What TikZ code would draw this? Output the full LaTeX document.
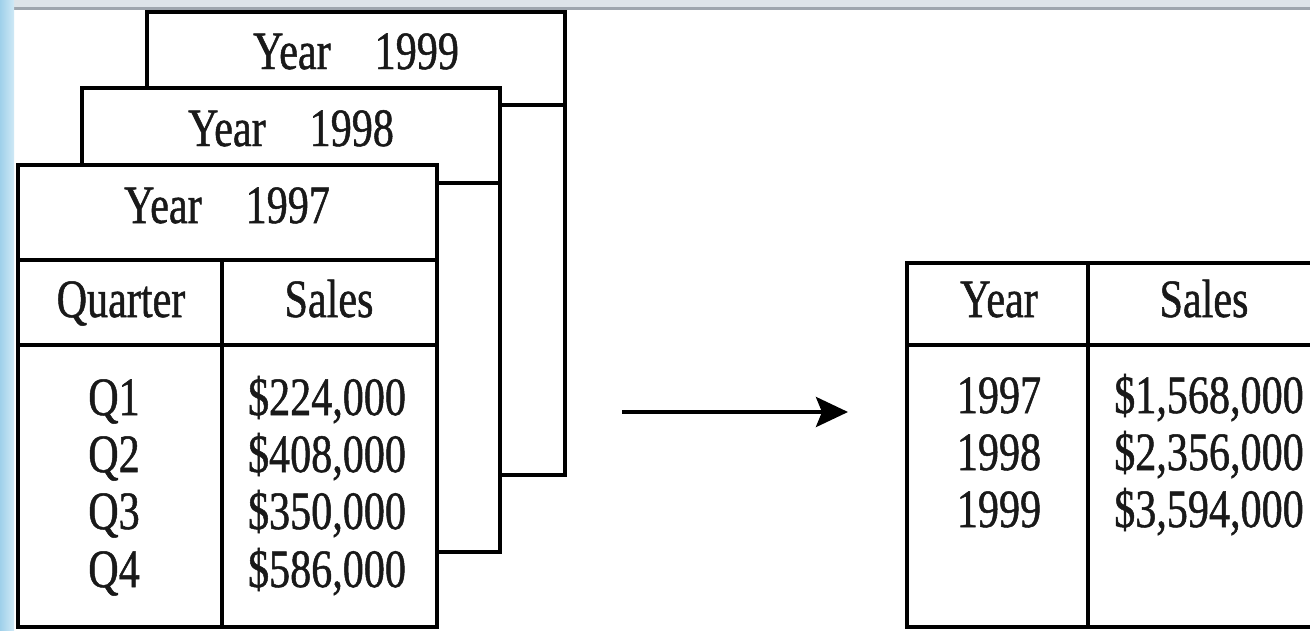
\documentclass[tikz,border=0pt]{standalone}
\usepackage{fontspec}
\setmainfont{Liberation Serif}[FakeStretch=0.78,FakeBold=0.9]
\usetikzlibrary{arrows.meta}
\definecolor{topbar}{HTML}{DDE4E9}
\definecolor{topline}{HTML}{9EA6AE}
\definecolor{sidebar}{HTML}{9FD0EA}
\definecolor{sidebarlight}{HTML}{CFE9F6}
\begin{document}
\begin{tikzpicture}[x=1pt,y=-1pt,
  frame/.style={draw=black,fill=white,line width=4.5pt,line join=miter},
  rule/.style={draw=black,line width=4.5pt},
  txt/.style={font=\fontsize{54}{58}\selectfont,inner sep=0pt,anchor=base,text=black!90},
  arrowline/.style={draw=black,line width=4pt,-{Stealth[length=32pt,width=30pt,inset=6pt]}}]
\useasboundingbox (0,0) rectangle (1310,630);
\clip (0,0) rectangle (1310,630);
% background
\fill[white] (0,0) rectangle (1310,630);
\fill[topbar] (0,0) rectangle (1310,7);
\fill[topline] (0,7) rectangle (1310,10);
\shade[left color=sidebar,right color=sidebarlight] (0,0) rectangle (14,630);
% back box 1999
\path[frame] (147,12) rectangle (565,475);
\draw[rule] (147,105) -- (565,105);
% middle box 1998
\path[frame] (82,88) rectangle (500,552);
\draw[rule] (82,183) -- (500,183);
% front box 1997
\path[frame] (18,165) rectangle (437,627);
\draw[rule] (18,260) -- (437,260);
\draw[rule] (18,345) -- (437,345);
\draw[rule] (222,260) -- (222,627);
% headers
\node[txt] (y1999) at (356,69) {Year\hspace{44pt}1999};
\node[txt] (y1998) at (291,146) {Year\hspace{44pt}1998};
\node[txt] (y1997) at (227,223) {Year\hspace{44pt}1997};
\node[txt] (quarter) at (121,317) {Quarter};
\node[txt] (sales) at (329,317) {Sales};
% quarters
\node[txt] (q1) at (114,415) {Q1};
\node[txt] (q2) at (114,472) {Q2};
\node[txt] (q3) at (114,529) {Q3};
\node[txt] (q4) at (114,587) {Q4};
\node[txt] (v1) at (327,415) {\$224,000};
\node[txt] (v2) at (327,472) {\$408,000};
\node[txt] (v3) at (327,529) {\$350,000};
\node[txt] (v4) at (327,587) {\$586,000};
% arrow
\coordinate (arrS) at (622,412);
\coordinate (arrE) at (848,412);
\draw[arrowline] (arrS) -- (arrE);
% result table
\path[frame] (907,263) rectangle (1340,627);
\draw[rule] (907,345) -- (1340,345);
\draw[rule] (1088,263) -- (1088,627);
\node[txt] (ryear) at (999,317) {Year};
\node[txt] (rsales) at (1204,317) {Sales};
\node[txt] (r1997) at (999,413) {1997};
\node[txt] (r1998) at (999,470) {1998};
\node[txt] (r1999) at (999,527) {1999};
\node[txt,anchor=base west] (s1997) at (1114,413) {\$1,568,000};
\node[txt,anchor=base west] (s1998) at (1114,470) {\$2,356,000};
\node[txt,anchor=base west] (s1999) at (1114,527) {\$3,594,000};
\end{tikzpicture}
\end{document}
